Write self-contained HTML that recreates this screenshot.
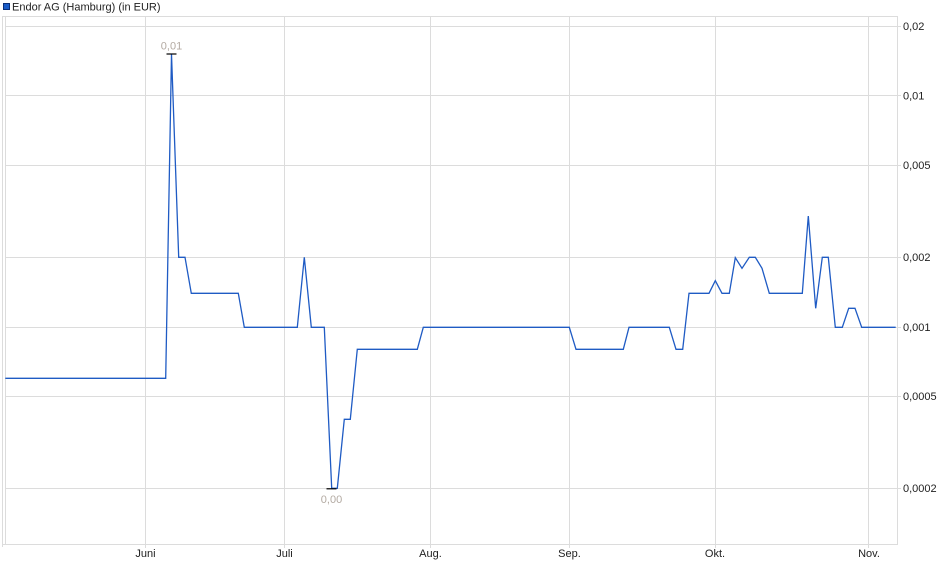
<!DOCTYPE html>
<html>
<head>
<meta charset="utf-8">
<style>
  html, body { margin: 0; padding: 0; background: #ffffff; }
  body { width: 940px; height: 579px; overflow: hidden; }
  svg { display: block; }
  text { font-family: "Liberation Sans", Arial, sans-serif; font-size: 11px; fill: #222; }
</style>
</head>
<body>
<svg width="940" height="579" viewBox="0 0 940 579" xmlns="http://www.w3.org/2000/svg">
  <!-- title -->
  <rect x="3.5" y="3.5" width="6" height="6" fill="#1a5cc8" stroke="#0b2f78" stroke-width="1"/>
  <text x="12" y="10.5">Endor AG (Hamburg) (in EUR)</text>

  <!-- horizontal gridlines -->
  <g stroke="#dcdcdc" stroke-width="1" shape-rendering="crispEdges">
    <line x1="5" y1="26.5" x2="901" y2="26.5"/>
    <line x1="5" y1="95.5" x2="901" y2="95.5"/>
    <line x1="5" y1="165.5" x2="901" y2="165.5"/>
    <line x1="5" y1="257.5" x2="901" y2="257.5"/>
    <line x1="5" y1="327.5" x2="901" y2="327.5"/>
    <line x1="5" y1="396.5" x2="901" y2="396.5"/>
    <line x1="5" y1="488.5" x2="901" y2="488.5"/>
    <!-- vertical gridlines -->
    <line x1="145.5" y1="17" x2="145.5" y2="548"/>
    <line x1="284.5" y1="17" x2="284.5" y2="548"/>
    <line x1="430.5" y1="17" x2="430.5" y2="548"/>
    <line x1="569.5" y1="17" x2="569.5" y2="548"/>
    <line x1="715.5" y1="17" x2="715.5" y2="548"/>
    <line x1="868.5" y1="17" x2="868.5" y2="548"/>
    <!-- frame -->
    <line x1="2.5" y1="17" x2="2.5" y2="547"/>
    <line x1="5.5" y1="17" x2="5.5" y2="545"/>
    <line x1="2" y1="16.5" x2="898" y2="16.5"/>
    <line x1="2" y1="544.5" x2="898" y2="544.5"/>
    <line x1="897.5" y1="16" x2="897.5" y2="545"/>
  </g>

  <!-- series -->
  <polyline fill="none" stroke="#1f5bc4" stroke-width="1.3" stroke-linejoin="miter"
    points="5.3,378.3 165.7,378.3 171.5,54.3 178.7,257.3 185,257.3 191.3,293.3 238.3,293.3 244.3,327.3 297.3,327.3 304.3,257.3 311.3,327.3 324.3,327.3 331.7,488.3 337.3,488.3 344.3,419.3 350.3,419.3 357.3,349.3 417.3,349.3 423.3,327.3 569.3,327.3 576,349.3 623.3,349.3 629,327.3 669.3,327.3 676,349.3 682.7,349.3 689,293.3 709,293.3 715.3,280.7 722,293.3 729.3,293.3 735.3,257.7 742,268.3 749.3,257.3 755.3,257.3 762,268.3 769.3,293.3 802.3,293.3 808.3,216 815.7,308.3 822.3,257.3 828.3,257.3 835.3,327.3 842.3,327.3 848.7,308.3 855,308.3 861.7,327.3 895.7,327.3"/>

  <!-- high / low markers -->
  <g stroke="#000" stroke-width="1.2">
    <line x1="166.5" y1="54" x2="176.5" y2="54"/>
    <line x1="326.5" y1="488.8" x2="336.5" y2="488.8"/>
  </g>
  <text x="171.5" y="49.5" text-anchor="middle" style="fill:#b3aaa2">0,01</text>
  <text x="331.5" y="503" text-anchor="middle" style="fill:#b3aaa2">0,00</text>

  <!-- y labels -->
  <text x="903" y="30">0,02</text>
  <text x="903" y="99.5">0,01</text>
  <text x="903" y="169">0,005</text>
  <text x="903" y="261">0,002</text>
  <text x="903" y="331">0,001</text>
  <text x="903" y="400">0,0005</text>
  <text x="903" y="492">0,0002</text>

  <!-- x labels -->
  <text x="145.5" y="557" text-anchor="middle">Juni</text>
  <text x="284.5" y="557" text-anchor="middle">Juli</text>
  <text x="430.5" y="557" text-anchor="middle">Aug.</text>
  <text x="569.5" y="557" text-anchor="middle">Sep.</text>
  <text x="715" y="557" text-anchor="middle">Okt.</text>
  <text x="869" y="557" text-anchor="middle">Nov.</text>
</svg>
</body>
</html>
